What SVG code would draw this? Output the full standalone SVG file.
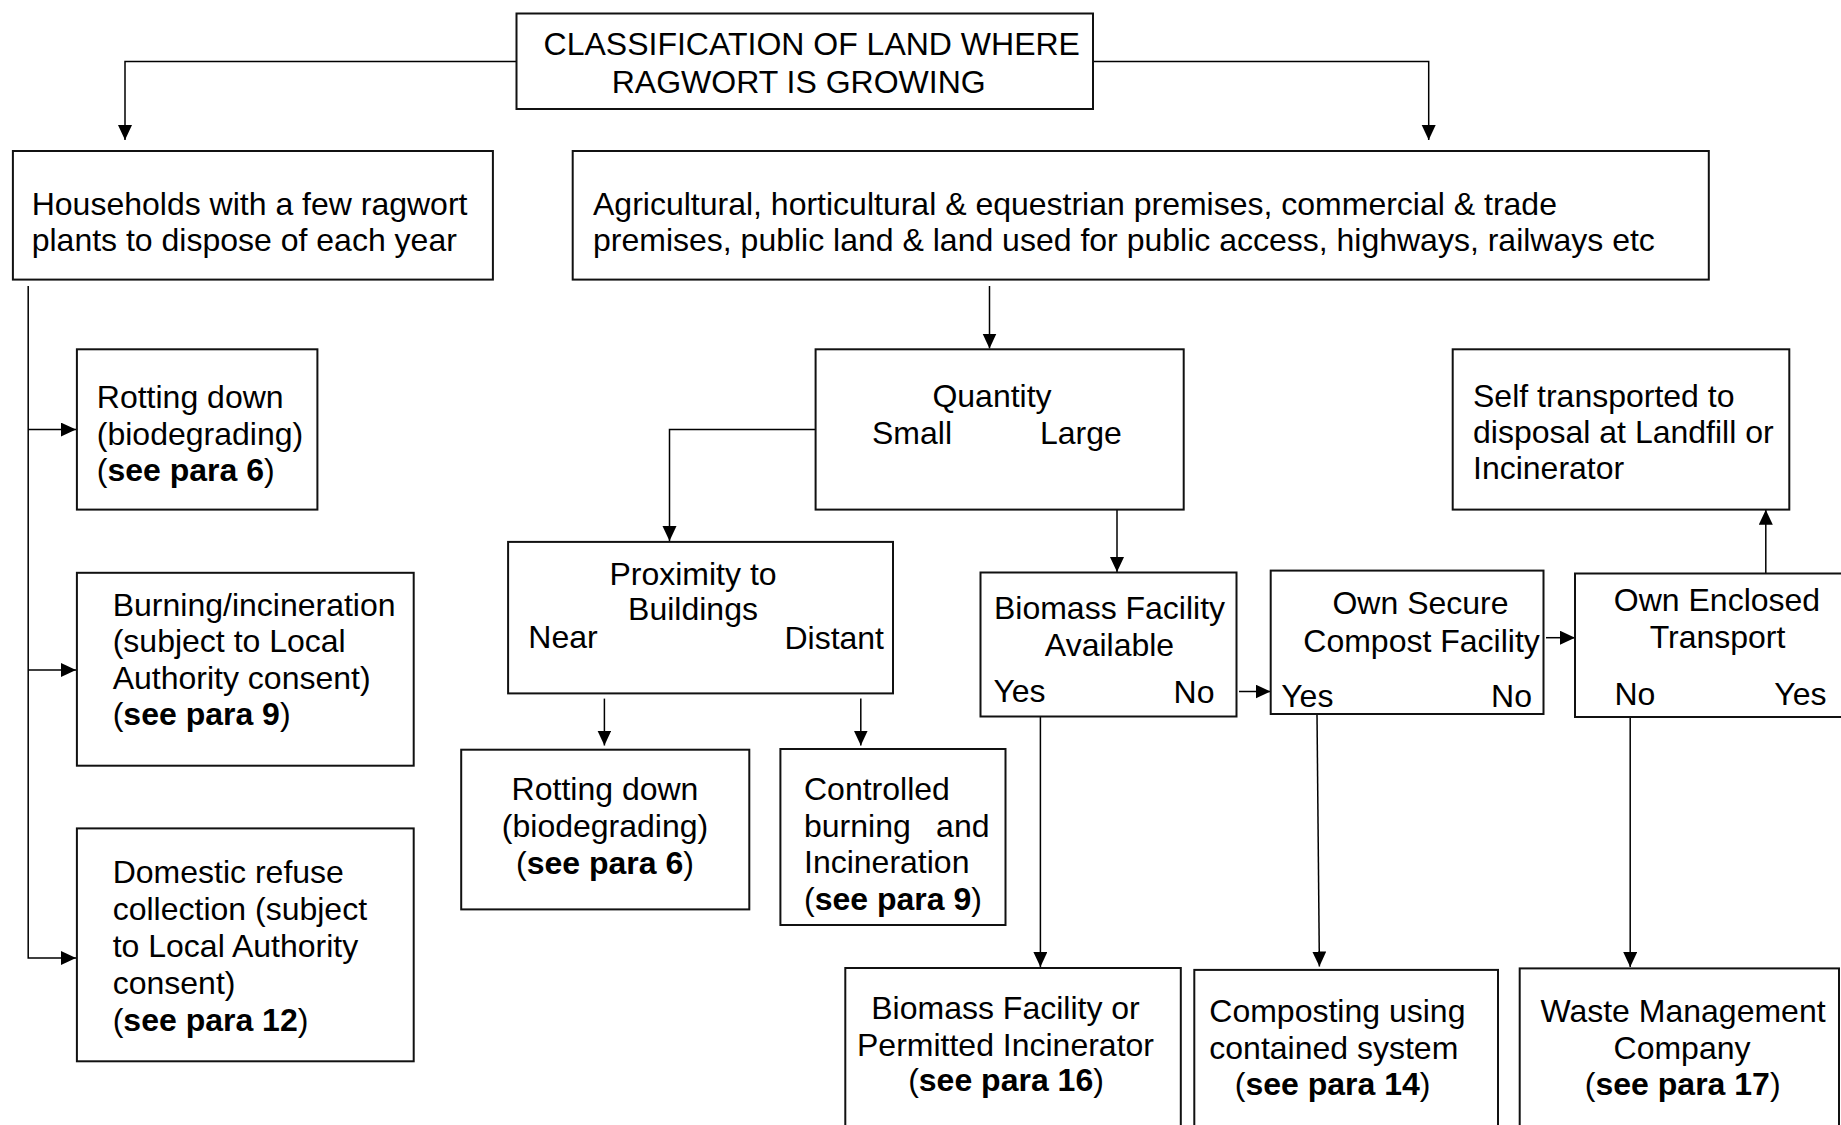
<svg xmlns="http://www.w3.org/2000/svg" width="1841" height="1125" viewBox="0 0 1841 1125">
<style>
.box{fill:#fff;stroke:#111;stroke-width:2}
.t{font-family:"Liberation Sans",Arial,sans-serif;font-size:32px;fill:#000}
.m{text-anchor:middle}
.e{text-anchor:end}
.b{font-weight:bold}
.c{fill:none;stroke:#000;stroke-width:1.5}
</style>
<defs>
<marker id="ah" markerUnits="userSpaceOnUse" markerWidth="16" markerHeight="15" refX="15" refY="7" orient="auto">
<path d="M0,0 L15,7 L0,14 z" fill="#000"/>
</marker>
</defs>
<rect width="1841" height="1125" fill="#fff"/>
<g id="connectors">
<path class="c" d="M516.5,61.5 H125 V140" marker-end="url(#ah)"/>
<path class="c" d="M1093,61.5 H1428.7 V140" marker-end="url(#ah)"/>
<path class="c" d="M28.2,286 V958 H76" marker-end="url(#ah)"/>
<path class="c" d="M28.2,429.6 H76" marker-end="url(#ah)"/>
<path class="c" d="M28.2,670 H76" marker-end="url(#ah)"/>
<path class="c" d="M989.5,286 V348.5" marker-end="url(#ah)"/>
<path class="c" d="M815.6,429.6 H669.5 V541" marker-end="url(#ah)"/>
<path class="c" d="M604.4,698.6 V745.5" marker-end="url(#ah)"/>
<path class="c" d="M860.8,698.6 V745.5" marker-end="url(#ah)"/>
<path class="c" d="M1117,509.6 V572" marker-end="url(#ah)"/>
<path class="c" d="M1239,691.5 H1270.5" marker-end="url(#ah)"/>
<path class="c" d="M1546,637.7 H1575" marker-end="url(#ah)"/>
<path class="c" d="M1765.8,573.5 V509.8" marker-end="url(#ah)"/>
<path class="c" d="M1040.4,716.5 V967" marker-end="url(#ah)"/>
<path class="c" d="M1317,714 L1319.4,966.5" marker-end="url(#ah)"/>
<path class="c" d="M1630.2,717 V967" marker-end="url(#ah)"/>
</g>
<g id="title">
<rect class="box" x="516.5" y="13.5" width="576.5" height="95.5"/>
<text class="t" x="543.6" y="54.5">CLASSIFICATION OF LAND WHERE</text>
<text class="t" x="611.7" y="92.5">RAGWORT IS GROWING</text>
</g>
<g id="households">
<rect class="box" x="12.9" y="151" width="480" height="128.6"/>
<text class="t" x="31.7" y="215">Households with a few ragwort</text>
<text class="t" x="31.7" y="251">plants to dispose of each year</text>
</g>
<g id="agricultural">
<rect class="box" x="572.7" y="151" width="1136.1" height="128.6"/>
<text class="t" x="593" y="215">Agricultural, horticultural &amp; equestrian premises, commercial &amp; trade</text>
<text class="t" x="593" y="251">premises, public land &amp; land used for public access, highways, railways etc</text>
</g>
<g id="rotting1">
<rect class="box" x="76.9" y="349.3" width="240.5" height="160.3"/>
<text class="t" x="96.8" y="408">Rotting down</text>
<text class="t" x="96.8" y="444.6">(biodegrading)</text>
<text class="t" x="96.8" y="481">(<tspan class="b">see para 6</tspan>)</text>
</g>
<g id="burning">
<rect class="box" x="76.9" y="572.8" width="336.8" height="192.9"/>
<text class="t" x="112.7" y="615.5">Burning/incineration</text>
<text class="t" x="112.7" y="652.3">(subject to Local</text>
<text class="t" x="112.7" y="689">Authority consent)</text>
<text class="t" x="112.7" y="725">(<tspan class="b">see para 9</tspan>)</text>
</g>
<g id="domestic">
<rect class="box" x="76.9" y="828.4" width="336.8" height="232.9"/>
<text class="t" x="112.7" y="883.4">Domestic refuse</text>
<text class="t" x="112.7" y="920.2">collection (subject</text>
<text class="t" x="112.7" y="957">to Local Authority</text>
<text class="t" x="112.7" y="993.7">consent)</text>
<text class="t" x="112.7" y="1030.6">(<tspan class="b">see para 12</tspan>)</text>
</g>
<g id="quantity">
<rect class="box" x="815.6" y="349.3" width="368.1" height="160.3"/>
<text class="t m" x="992" y="407">Quantity</text>
<text class="t" x="872" y="443.5">Small</text>
<text class="t" x="1040" y="443.5">Large</text>
</g>
<g id="self-transported">
<rect class="box" x="1452.7" y="349.3" width="336.6" height="160.3"/>
<text class="t" x="1473" y="407">Self transported to</text>
<text class="t" x="1473" y="443">disposal at Landfill or</text>
<text class="t" x="1473" y="479">Incinerator</text>
</g>
<g id="proximity">
<rect class="box" x="508.1" y="541.9" width="384.9" height="151.5"/>
<text class="t m" x="693" y="585">Proximity to</text>
<text class="t m" x="693" y="620.4">Buildings</text>
<text class="t" x="528.3" y="647.6">Near</text>
<text class="t e" x="884" y="649">Distant</text>
</g>
<g id="rotting2">
<rect class="box" x="461.2" y="749.7" width="288.1" height="159.7"/>
<text class="t m" x="605" y="800.2">Rotting down</text>
<text class="t m" x="605" y="837.3">(biodegrading)</text>
<text class="t m" x="605" y="874">(<tspan class="b">see para 6</tspan>)</text>
</g>
<g id="controlled">
<rect class="box" x="780.4" y="749" width="225.1" height="176"/>
<text class="t" x="804" y="800">Controlled</text>
<text class="t" x="804" y="837">burning</text>
<text class="t e" x="989.5" y="837">and</text>
<text class="t" x="804" y="873">Incineration</text>
<text class="t" x="804" y="909.5">(<tspan class="b">see para 9</tspan>)</text>
</g>
<g id="biomass-available">
<rect class="box" x="980.5" y="572.5" width="256" height="144"/>
<text class="t m" x="1109.5" y="618.5">Biomass Facility</text>
<text class="t m" x="1109.5" y="655.8">Available</text>
<text class="t" x="993.4" y="702">Yes</text>
<text class="t e" x="1214.5" y="703">No</text>
</g>
<g id="own-compost">
<rect class="box" x="1270.7" y="570.6" width="272.8" height="143.4"/>
<text class="t m" x="1420.5" y="614">Own Secure</text>
<text class="t" x="1303.3" y="651.5">Compost Facility</text>
<text class="t" x="1281.2" y="706.5">Yes</text>
<text class="t e" x="1532" y="706.5">No</text>
</g>
<g id="own-transport">
<rect class="box" x="1575" y="573.5" width="270" height="143.5"/>
<text class="t m" x="1717" y="611">Own Enclosed</text>
<text class="t m" x="1717.5" y="648.3">Transport</text>
<text class="t" x="1614.5" y="705">No</text>
<text class="t" x="1774.3" y="705">Yes</text>
</g>
<g id="biomass-incinerator">
<rect class="box" x="845.3" y="968" width="335.5" height="170"/>
<text class="t m" x="1005.5" y="1018.5">Biomass Facility or</text>
<text class="t m" x="1005.5" y="1055.5">Permitted Incinerator</text>
<text class="t m" x="1006" y="1091">(<tspan class="b">see para 16</tspan>)</text>
</g>
<g id="composting">
<rect class="box" x="1194.3" y="969.9" width="303.7" height="170"/>
<text class="t" x="1209.3" y="1022">Composting using</text>
<text class="t" x="1209.3" y="1059">contained system</text>
<text class="t m" x="1332.6" y="1094.5">(<tspan class="b">see para 14</tspan>)</text>
</g>
<g id="waste-management">
<rect class="box" x="1519.7" y="968.4" width="319.3" height="170"/>
<text class="t m" x="1683" y="1022">Waste Management</text>
<text class="t m" x="1682" y="1059">Company</text>
<text class="t m" x="1682.7" y="1094.5">(<tspan class="b">see para 17</tspan>)</text>
</g>
</svg>
